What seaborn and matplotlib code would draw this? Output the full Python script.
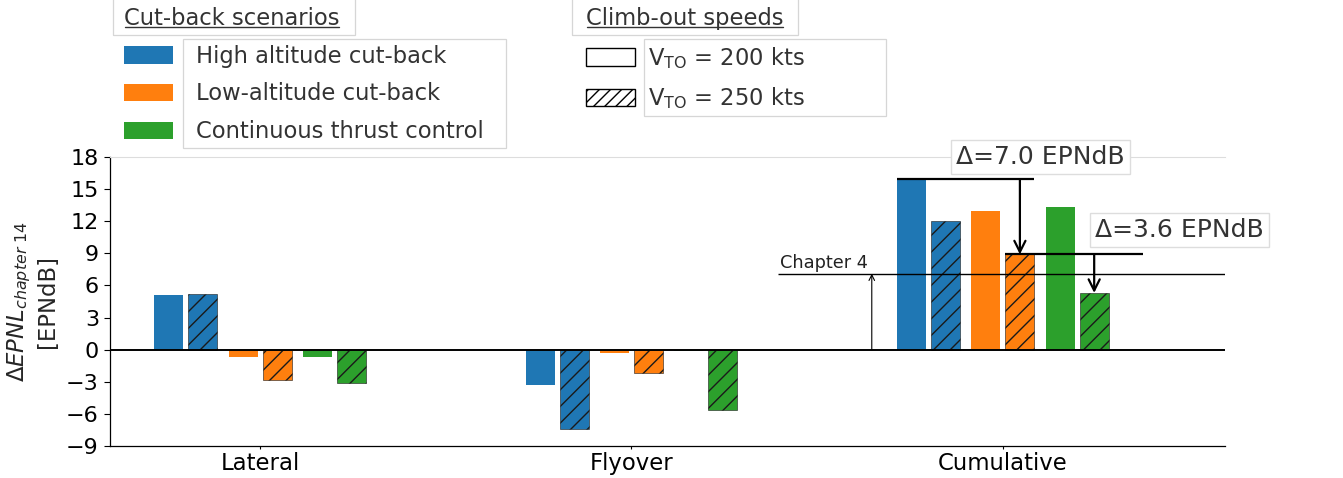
import numpy as np
import pandas as pd
import seaborn as sns
import matplotlib.pyplot as plt
from matplotlib.patches import Patch, Rectangle
from matplotlib.lines import Line2D
from matplotlib.transforms import IdentityTransform, Bbox

# ---------------- data ----------------
categories = ["Lateral", "Flyover", "Cumulative"]
scenarios = ["High altitude cut-back", "Low-altitude cut-back", "Continuous thrust control"]
speeds = ["V$_{\\mathrm{TO}}$ = 200 kts", "V$_{\\mathrm{TO}}$ = 250 kts"]
high_alt_200 = [5.1, -3.3, 15.9]
high_alt_250 = [5.2, -7.4, 12.0]
low_alt_200 = [-0.7, -0.3, 13.0]
low_alt_250 = [-2.8, -2.2, 8.9]
ctc_200 = [-0.7, -0.1, 13.3]
ctc_250 = [-3.1, -5.6, 5.3]
chapter4_level = 7.1
yticks = list(range(-9, 19, 3))

colors = ["#1f77b4", "#ff7f0e", "#2ca02c"]

def frame(vals_by_scen):
    rows = []
    for scen, vals in zip(scenarios, vals_by_scen):
        for c, v in zip(categories, vals):
            rows.append({"category": c, "scenario": scen, "value": v})
    return pd.DataFrame(rows)

df200 = frame([high_alt_200, low_alt_200, ctc_200])
df250 = frame([high_alt_250, low_alt_250, ctc_250])

# ---------------- style ----------------
sns.set_style("ticks")
plt.rcParams["font.family"] = ["DejaVu Sans"]
plt.rcParams["hatch.linewidth"] = 1.0

W, H = 1343, 478
fig = plt.figure(figsize=(W / 100, H / 100), dpi=100)
ax = fig.add_axes([110 / W, 1 - 446 / H, (1225 - 110) / W, (446 - 157) / H])

half = 0.0458
common = dict(x="category", y="value", hue="scenario", order=categories,
              hue_order=scenarios, palette=colors, width=0.6, gap=0.61,
              saturation=1, legend=False, ax=ax)
sns.barplot(data=df200, **common)
n1 = len(ax.containers)
sns.barplot(data=df250, **common)
for i, cont in enumerate(ax.containers):
    for p in cont:
        if i < n1:
            p.set_x(p.get_x() - half)
            p.set_linewidth(0)
        else:
            p.set_x(p.get_x() + half)
            p.set_hatch("//")
            p.set_edgecolor("#1a1a1a")
            p.set_linewidth(0.4)

ax.set_xlim(-0.404, 2.598)
ax.set_ylim(-9, 18)
ax.set_yticks(yticks)
ax.tick_params(axis="y", labelsize=16, length=4, width=0.8, pad=4, colors="black")
ax.tick_params(axis="x", labelsize=16.4, length=2.5, width=0.8, pad=1.5, colors="black")
ax.set_xlabel("")
ax.set_ylabel("$\\Delta EPNL_{chapter\\ 14}$\n[EPNdB]", fontsize=16.4, labelpad=5)
ax.axhline(0, color="black", lw=1.4, zorder=3)
ax.spines["right"].set_visible(False)
ax.spines["top"].set_color("#dddddd")
for s in ["left", "bottom"]:
    ax.spines[s].set_color("black")
    ax.spines[s].set_linewidth(0.9)

# Chapter 4 line
ax.hlines(chapter4_level, 1.394, 2.598, color="black", lw=1.0, zorder=3)
ax.annotate("", xy=(1.647, chapter4_level), xytext=(1.647, 0),
            arrowprops=dict(arrowstyle="->", lw=0.8, color="black", shrinkA=0, shrinkB=0))
ax.text(1.40, chapter4_level + 0.2, "Chapter 4", fontsize=12.8, ha="left", va="bottom",
        color="#222222")

# Delta annotations
bw = 0.2 * (1 - 0.61)
def pos(scen_idx, speed_idx, cat_idx=2):
    return cat_idx + (scen_idx - 1) * 0.2 + (half if speed_idx else -half)

top_ha = high_alt_200[2]
top_la = low_alt_250[2]
top_ct = ctc_250[2]
ak = dict(arrowstyle="->", lw=1.6, color="black", mutation_scale=20, shrinkA=0, shrinkB=0)
ax.hlines(top_ha, pos(0, 0) - bw / 2, pos(1, 1) + bw / 2, color="black", lw=1.6, zorder=4)
ax.annotate("", xy=(pos(1, 1), top_la), xytext=(pos(1, 1), top_ha), arrowprops=ak, zorder=4)
ax.hlines(top_la, pos(1, 1) - bw / 2, pos(2, 1) + bw / 2 + 0.092, color="black", lw=1.6, zorder=4)
ax.annotate("", xy=(pos(2, 1), top_ct), xytext=(pos(2, 1), top_la), arrowprops=ak, zorder=4)
ax.text(2.102, 18.0, f"Δ={top_ha - top_la:.1f} EPNdB", fontsize=18, ha="center", va="center",
        bbox=dict(boxstyle="square,pad=0.2", fc="white", ec="#dddddd"), zorder=5, color="#333333")
ax.text(2.476, 11.2, f"Δ={top_la - top_ct:.1f} EPNdB", fontsize=18, ha="center", va="center",
        bbox=dict(boxstyle="square,pad=0.2", fc="white", ec="#dddddd"), zorder=5, color="#333333")

# Legends
legkw = dict(loc="upper left", fontsize=16.3, title_fontsize=16.3, frameon=False,
             alignment="left", handlelength=2.17, handleheight=0.8, labelspacing=0.65,
             borderaxespad=0.0, borderpad=0.0)
h1 = [Patch(facecolor=c, edgecolor="none") for c in colors]
leg1 = fig.legend(h1, scenarios, title="Cut-back scenarios",
                  bbox_to_anchor=(124 / W, 1 - 7 / H), handletextpad=1.0, **legkw)
h2 = [Patch(facecolor="white", edgecolor="black", lw=1.0),
      Patch(facecolor="white", edgecolor="black", lw=1.0, hatch="///")]
leg2 = fig.legend(h2, speeds, title="Climb-out speeds",
                  bbox_to_anchor=(586 / W, 1 - 7 / H), handletextpad=0.55, **legkw)
for leg in (leg1, leg2):
    leg.get_title().set_color("#333333")
    for t in leg.get_texts():
        t.set_color("#333333")

fig.canvas.draw()
fs_px = 16.3 * 100 / 72
box_ec = "#d6d6d6"
pads = {id(leg1): (11, 15, 13, 22), id(leg2): (14, 14, 4, 82)}
for leg in (leg1, leg2):
    tl, tr, ll, lr = pads[id(leg)]
    bb = leg.get_title().get_window_extent()
    yline = bb.y0 + 0.236 * fs_px - 2
    fig.add_artist(Line2D([bb.x0 + 1, bb.x1 - 1], [yline, yline], color="#333333",
                          lw=1.0, transform=IdentityTransform()))
    fig.add_artist(Rectangle((bb.x0 - tl, bb.y0 - 5), bb.width + tl + tr, H - (bb.y0 - 5) + 2,
                             fill=False, ec=box_ec, lw=0.9, transform=IdentityTransform()))
    tb = Bbox.union([t.get_window_extent() for t in leg.get_texts()])
    fig.add_artist(Rectangle((tb.x0 - ll, tb.y0 - 5), tb.width + ll + lr, tb.height + 11,
                             fill=False, ec=box_ec, lw=0.9, transform=IdentityTransform()))

fig.savefig("out.png", dpi=100)
